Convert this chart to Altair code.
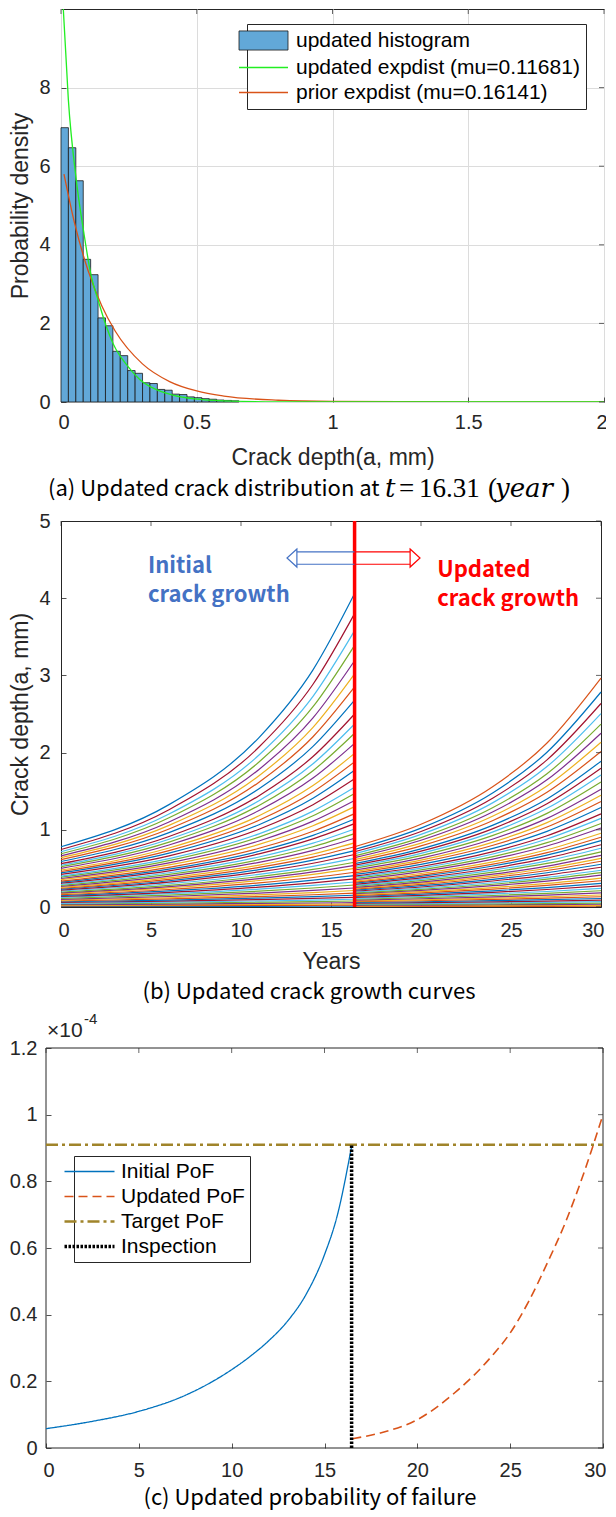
import altair as alt
import pandas as pd

# ======================= DATA =======================
# ---- (a) updated crack distribution at t = 16.31 year ----
HIST_BIN_WIDTH = 0.0273
HIST_DENSITY = [6.98, 6.47, 5.63, 3.63, 3.24, 2.14, 1.94, 1.29, 1.18, 0.80,
                0.73, 0.49, 0.47, 0.32, 0.30, 0.20, 0.19, 0.13, 0.11, 0.085,
                0.07, 0.05, 0.04, 0.03]
UPD_EXP_X = [0.0085, 0.027, 0.0555, 0.0838, 0.1108, 0.139, 0.166, 0.193, 0.247,
             0.292, 0.356, 0.415, 0.493, 0.60, 0.80, 1.0, 1.5, 2.0]
UPD_EXP_Y = [10.0, 7.7, 5.69, 4.32, 3.22, 2.54, 1.94, 1.47, 0.90,
             0.56, 0.30, 0.17, 0.08, 0.03, 0.005, 0.0, 0.0, 0.0]
PRIOR_EXP_X = [0.011, 0.05, 0.10, 0.15, 0.20, 0.30, 0.40, 0.50, 0.60, 0.80, 1.0, 1.5, 2.0]
PRIOR_EXP_Y = [5.80, 4.55, 3.34, 2.45, 1.80, 0.97, 0.52, 0.28, 0.15, 0.045, 0.013, 0.0, 0.0]
HIST_LABEL = "updated histogram"
LINE_LABELS_A = ["updated expdist (mu=0.11681)", "prior expdist (mu=0.16141)"]
A_XDOM = [0, 2]
A_YDOM = [0, 10]
A_XTICKS = [0, 0.5, 1, 1.5, 2]
A_YTICKS = [0, 2, 4, 6, 8]

# ---- (b) crack growth curves (crack depth, mm), top curve first ----
T_LEFT = [0, 6, 11, 14, 16.31]
LEFT_CURVES = [
    [0.780, 1.326, 2.195, 3.072, 4.06], [0.745, 1.260, 2.072, 2.885, 3.80],
    [0.716, 1.204, 1.969, 2.729, 3.58], [0.690, 1.155, 1.878, 2.594, 3.39],
    [0.663, 1.102, 1.782, 2.450, 3.19], [0.639, 1.057, 1.700, 2.327, 3.02],
    [0.614, 1.011, 1.617, 2.205, 2.85], [0.589, 0.964, 1.532, 2.081, 2.68],
    [0.561, 0.913, 1.442, 1.949, 2.50], [0.541, 0.877, 1.377, 1.855, 2.37],
    [0.522, 0.841, 1.316, 1.766, 2.25], [0.501, 0.803, 1.249, 1.670, 2.12],
    [0.479, 0.764, 1.181, 1.573, 1.99], [0.460, 0.731, 1.124, 1.491, 1.88],
    [0.441, 0.697, 1.066, 1.408, 1.77], [0.422, 0.662, 1.007, 1.325, 1.66],
    [0.401, 0.627, 0.948, 1.242, 1.55], [0.387, 0.601, 0.905, 1.181, 1.47],
    [0.369, 0.571, 0.855, 1.112, 1.38], [0.354, 0.545, 0.811, 1.052, 1.30],
    [0.336, 0.514, 0.761, 0.982, 1.21], [0.322, 0.490, 0.722, 0.928, 1.14],
    [0.309, 0.469, 0.688, 0.882, 1.08], [0.294, 0.444, 0.648, 0.827, 1.01],
    [0.281, 0.422, 0.613, 0.781, 0.95], [0.268, 0.400, 0.578, 0.733, 0.89],
    [0.255, 0.378, 0.543, 0.686, 0.83], [0.243, 0.359, 0.514, 0.647, 0.78],
    [0.231, 0.340, 0.484, 0.607, 0.73], [0.219, 0.321, 0.454, 0.567, 0.68],
    [0.207, 0.301, 0.423, 0.527, 0.63], [0.194, 0.281, 0.393, 0.487, 0.58],
    [0.184, 0.265, 0.368, 0.455, 0.54], [0.174, 0.248, 0.343, 0.423, 0.50],
    [0.160, 0.227, 0.312, 0.382, 0.45], [0.148, 0.209, 0.284, 0.347, 0.407],
    [0.136, 0.190, 0.257, 0.312, 0.365], [0.124, 0.172, 0.231, 0.279, 0.324],
    [0.112, 0.154, 0.205, 0.246, 0.285], [0.100, 0.136, 0.180, 0.215, 0.247],
    [0.089, 0.120, 0.157, 0.186, 0.214], [0.078, 0.104, 0.135, 0.159, 0.181],
    [0.068, 0.090, 0.116, 0.135, 0.153], [0.058, 0.076, 0.096, 0.112, 0.126],
    [0.048, 0.062, 0.078, 0.090, 0.101], [0.039, 0.050, 0.062, 0.070, 0.078],
    [0.030, 0.038, 0.046, 0.052, 0.057], [0.022, 0.027, 0.033, 0.037, 0.040],
    [0.014, 0.017, 0.020, 0.022, 0.024], [0.007, 0.008, 0.009, 0.010, 0.011],
]
T_RIGHT = [16.31, 20, 24, 27, 30]
RIGHT_CURVES = [
    [0.780, 1.071, 1.561, 2.124, 2.965], [0.745, 1.021, 1.480, 2.005, 2.785],
    [0.716, 0.978, 1.412, 1.906, 2.636], [0.690, 0.940, 1.352, 1.819, 2.506],
    [0.663, 0.899, 1.288, 1.726, 2.368], [0.639, 0.864, 1.233, 1.647, 2.251],
    [0.614, 0.828, 1.178, 1.568, 2.134], [0.589, 0.792, 1.121, 1.486, 2.014],
    [0.561, 0.752, 1.060, 1.400, 1.888], [0.541, 0.723, 1.015, 1.337, 1.797],
    [0.522, 0.695, 0.973, 1.278, 1.711], [0.501, 0.665, 0.927, 1.213, 1.619],
    [0.479, 0.634, 0.881, 1.148, 1.526], [0.460, 0.608, 0.841, 1.093, 1.447],
    [0.441, 0.581, 0.800, 1.036, 1.367], [0.422, 0.553, 0.759, 0.980, 1.288],
    [0.401, 0.525, 0.718, 0.923, 1.207], [0.387, 0.504, 0.687, 0.881, 1.148],
    [0.369, 0.480, 0.652, 0.833, 1.082], [0.354, 0.459, 0.620, 0.790, 1.023],
    [0.336, 0.434, 0.584, 0.742, 0.956], [0.322, 0.414, 0.556, 0.704, 0.904],
    [0.309, 0.397, 0.531, 0.671, 0.859], [0.294, 0.377, 0.502, 0.632, 0.806],
    [0.281, 0.359, 0.477, 0.598, 0.761], [0.268, 0.341, 0.452, 0.564, 0.715],
    [0.255, 0.323, 0.426, 0.530, 0.670], [0.243, 0.308, 0.404, 0.502, 0.631],
    [0.231, 0.292, 0.382, 0.473, 0.593], [0.219, 0.276, 0.359, 0.444, 0.554],
    [0.207, 0.259, 0.337, 0.414, 0.515], [0.194, 0.243, 0.314, 0.384, 0.476],
    [0.184, 0.229, 0.295, 0.360, 0.445], [0.174, 0.215, 0.276, 0.336, 0.414],
    [0.160, 0.198, 0.252, 0.305, 0.374], [0.148, 0.182, 0.231, 0.279, 0.340],
    [0.136, 0.167, 0.210, 0.252, 0.306], [0.124, 0.151, 0.190, 0.227, 0.273],
    [0.112, 0.136, 0.169, 0.201, 0.242], [0.100, 0.121, 0.149, 0.177, 0.211],
    [0.089, 0.107, 0.131, 0.155, 0.183], [0.078, 0.093, 0.114, 0.133, 0.156],
    [0.068, 0.081, 0.098, 0.114, 0.133], [0.058, 0.068, 0.082, 0.095, 0.110],
    [0.048, 0.056, 0.067, 0.077, 0.088], [0.039, 0.045, 0.053, 0.061, 0.070],
    [0.030, 0.034, 0.040, 0.045, 0.051], [0.022, 0.025, 0.029, 0.032, 0.036],
    [0.014, 0.016, 0.018, 0.020, 0.022], [0.007, 0.008, 0.009, 0.009, 0.010],
]
INSPECTION_YEAR_B = 16.31
B_XDOM = [0, 30]
B_YDOM = [0, 5]
B_XTICKS = [0, 5, 10, 15, 20, 25, 30]
B_YTICKS = [0, 1, 2, 3, 4, 5]

# ---- (c) probability of failure (axis units of 1e-4) ----
INITIAL_T = [0, 2.5, 5, 7.5, 10, 11, 12, 13, 14, 15, 15.7, 16.46]
INITIAL_POF = [0.058, 0.08, 0.11, 0.158, 0.235, 0.275, 0.322, 0.38, 0.46, 0.58, 0.70, 0.905]
UPDATED_T = [16.5, 18, 20, 22, 24, 25, 26, 27, 28, 29, 30]
UPDATED_POF = [0.028, 0.045, 0.085, 0.165, 0.275, 0.345, 0.44, 0.555, 0.68, 0.83, 1.0]
TARGET_T = [0, 30]
TARGET_POF = 0.91
INSPECTION_T = 16.46
INSPECTION_POF = [0, 0.91]
SERIES_C = ["Initial PoF", "Updated PoF", "Target PoF", "Inspection"]
C_XDOM = [0, 30]
C_YDOM = [0, 1.2]
C_XTICKS = [0, 5, 10, 15, 20, 25, 30]
C_YTICKS = [0, 0.2, 0.4, 0.6, 0.8, 1, 1.2]

# ======================= STYLE =======================
FONT = "Liberation Sans"
KFONT = "Noto Sans CJK KR"
MFONT = "Liberation Serif"
MIFONT = "DejaVu Serif"
AXC = "#262626"
TICK_FS = 20
TITLE_FS = 23
CAP_FS = 22
MATLAB = ["#0072BD", "#D95319", "#EDB120", "#7E2F8E", "#77AC30", "#4DBEEE", "#A2142F"]
BAR_FILL = "#62A8D8"
GREEN = "#22EE22"
ORANGE = "#D95319"
TARGET_C = "#A0842A"
BLUE_T = "#4472C4"
RED_T = "#FF0000"


def ax_main(orient, values, title, label_pad, title_pad, offset=-5):
    kw = dict(orient=orient, values=values, format="~g", offset=offset, domain=False,
              ticks=True, tickSize=5, tickColor=AXC, tickWidth=0.8, minExtent=0,
              labelFont=FONT, labelFontSize=TICK_FS, labelColor=AXC,
              labelPadding=label_pad, labelOverlap=False, grid=False)
    if orient in ("bottom", "top"):
        kw.update(labelFlush=True, labelFlushOffset=3)
    else:
        kw.update(labelFlush=False)
    if title:
        kw.update(title=title, titleFont=FONT, titleFontSize=TITLE_FS, titleColor=AXC,
                  titleFontWeight="normal", titlePadding=title_pad)
    else:
        kw.update(title=None)
    return alt.Axis(**kw)


def ax_grid(orient, values):
    return alt.Axis(orient=orient, values=values, domain=False, ticks=False, labels=False,
                    title=None, grid=True, gridColor="#DCDCDC", gridWidth=1, minExtent=0)


def inside_ticks(xscale, yscale, xticks, yticks, xdom, ydom):
    """MATLAB-style inward ticks on the top and right edges (box on)."""
    top = alt.Chart(pd.DataFrame({"x": xticks, "y": [ydom[1]] * len(xticks)})).mark_tick(
        orient="vertical", size=5, thickness=1, yOffset=2.5, color=AXC).encode(
        x=alt.X("x:Q", scale=xscale, axis=None), y=alt.Y("y:Q", scale=yscale, axis=None))
    right = alt.Chart(pd.DataFrame({"x": [xdom[1]] * len(yticks), "y": yticks})).mark_tick(
        orient="horizontal", size=5, thickness=1, xOffset=-2.5, color=AXC).encode(
        x=alt.X("x:Q", scale=xscale, axis=None), y=alt.Y("y:Q", scale=yscale, axis=None))
    return [top, right]


def one_row():
    return pd.DataFrame({"k": [0]})


def txt(text, x, y, size, font=KFONT, align="left", style="normal", weight="normal",
        color="#000000", baseline="middle"):
    return alt.Chart(one_row()).mark_text(
        text=text, font=font, fontSize=size, fontStyle=style, fontWeight=weight,
        align=align, baseline=baseline, color=color
    ).encode(x=alt.value(x), y=alt.value(y))


# ======================= PANEL (a) =======================
n = len(HIST_DENSITY)
hist_df = pd.DataFrame({
    "x0": [i * HIST_BIN_WIDTH for i in range(n)],
    "x1": [(i + 1) * HIST_BIN_WIDTH for i in range(n)],
    "dens": HIST_DENSITY, "zero": [0.0] * n, "hs": [HIST_LABEL] * n,
})
upd_df = pd.DataFrame({"x": UPD_EXP_X, "y": UPD_EXP_Y, "series": LINE_LABELS_A[0]})
pri_df = pd.DataFrame({"x": PRIOR_EXP_X, "y": PRIOR_EXP_Y, "series": LINE_LABELS_A[1]})

xsA = alt.Scale(domain=A_XDOM, nice=False, zero=False)
ysA = alt.Scale(domain=A_YDOM, nice=False, zero=False)
colA = alt.Scale(domain=LINE_LABELS_A, range=[GREEN, ORANGE])
fillA = alt.Scale(domain=[HIST_LABEL], range=[BAR_FILL])

# legend for the two lines: carries the box; a blank title row reserves the histogram row
legL = alt.Legend(
    title="\u00a0", titleFontSize=21, titlePadding=6, titleFont=FONT,
    orient="none", legendX=186, legendY=15, padding=6, zindex=0,
    fillColor="#FFFFFF", strokeColor=AXC, labelFont=FONT, labelFontSize=21,
    labelColor="#000000", labelOffset=22, symbolType="stroke", symbolSize=2401,
    rowPadding=3, labelLimit=400,
    symbolStrokeWidth={"expr": "datum.value === 'prior expdist (mu=0.16141)' ? 1.3 : 1.3"},
)
# legend for the histogram patch, drawn on top in the first row
legH = alt.Legend(
    title=None, orient="none", legendX=186, legendY=15, padding=6, zindex=1,
    labelFont=FONT, labelFontSize=21, labelColor="#000000", labelOffset=22,
    symbolType="M-1,-0.39H1V0.39H-1Z", symbolSize=2401, symbolStrokeColor="#1a1a1a",
    symbolStrokeWidth={"expr": "datum.value === 'updated histogram' ? 0.8 : 0.8"},
    labelLimit=400,
)

bars = alt.Chart(hist_df).mark_rect(stroke="#1a1a1a", strokeWidth=0.8).encode(
    x=alt.X("x0:Q", scale=xsA, axis=ax_main("bottom", A_XTICKS, "Crack depth(a, mm)", 10, 14)),
    x2="x1",
    y=alt.Y("dens:Q", scale=ysA, axis=ax_main("left", A_YTICKS, "Probability density", 11, 6)),
    y2="zero",
    fill=alt.Fill("hs:N", scale=fillA, legend=legH),
)
upd_line = alt.Chart(upd_df).mark_line(strokeWidth=1.3, interpolate="monotone", clip=True).encode(
    x=alt.X("x:Q", scale=xsA, axis=None),
    y=alt.Y("y:Q", scale=ysA, axis=None),
    color=alt.Color("series:N", scale=colA, legend=legL),
)
pri_line = alt.Chart(pri_df).mark_line(strokeWidth=1.3, interpolate="monotone", clip=True).encode(
    x=alt.X("x:Q", scale=xsA, axis=ax_grid("bottom", A_XTICKS)),
    y=alt.Y("y:Q", scale=ysA, axis=ax_grid("left", A_YTICKS)),
    color=alt.Color("series:N", scale=colA, legend=legL),
)
cap_a = [
    txt("(a)  Updated  crack  distribution  at", -13, 480, CAP_FS),
    txt("t", 324, 480, 26, font=MIFONT, style="italic"),
    txt("=", 338, 480, 27, font=MFONT),
    txt("16.31", 358, 480, 27, font=MFONT),
    txt("(", 427, 480, 27, font=MFONT),
    txt("year", 434, 480, 26, font=MIFONT, style="italic"),
    txt(")", 500, 480, 27, font=MFONT),
]
panel_a = alt.layer(
    bars, pri_line, upd_line, *inside_ticks(xsA, ysA, A_XTICKS, A_YTICKS, A_XDOM, A_YDOM), *cap_a
).resolve_axis(x="independent", y="independent").properties(width=543, height=393)

# ======================= PANEL (b) =======================
rows = []
NL = len(LEFT_CURVES)
NR = len(RIGHT_CURVES)
for k, vals in enumerate(LEFT_CURVES):
    gi = NL - 1 - k
    for t, a in zip(T_LEFT, vals):
        rows.append({"curve": f"c{gi:03d}", "gi": gi, "t": t, "a": a, "cidx": f"k{gi % 7}"})
for k, vals in enumerate(RIGHT_CURVES):
    gi = NL + NR - 1 - k
    for t, a in zip(T_RIGHT, vals):
        rows.append({"curve": f"c{gi:03d}", "gi": gi, "t": t, "a": a, "cidx": f"k{gi % 7}"})
curves_df = pd.DataFrame(rows).sort_values(["gi", "t"]).reset_index(drop=True)

xsB = alt.Scale(domain=B_XDOM, nice=False, zero=False)
ysB = alt.Scale(domain=B_YDOM, nice=False, zero=False)
colB = alt.Scale(domain=[f"k{i}" for i in range(7)], range=MATLAB)

curve_lines = alt.Chart(curves_df).mark_line(strokeWidth=1.2, interpolate="monotone").encode(
    x=alt.X("t:Q", scale=xsB, axis=ax_main("bottom", B_XTICKS, "Years", 13, 10)),
    y=alt.Y("a:Q", scale=ysB, axis=ax_main("left", B_YTICKS, "Crack depth(a, mm)", 11, 6)),
    color=alt.Color("cidx:N", scale=colB, legend=None),
    detail="curve:N", order="t:Q",
)
insp_rule = alt.Chart(pd.DataFrame({"t": [INSPECTION_YEAR_B]})).mark_rule(
    color=RED_T, strokeWidth=3.5).encode(x=alt.X("t:Q", scale=xsB, axis=None))


def arrow_body(x_from, x_to, color):
    d = pd.DataFrame({"x1": [x_from, x_from], "x2": [x_to, x_to], "y": [4.44, 4.60]})
    return alt.Chart(d).mark_rule(color=color, strokeWidth=1.2).encode(
        x=alt.X("x1:Q", scale=xsB, axis=None), x2="x2",
        y=alt.Y("y:Q", scale=ysB, axis=None))


def arrow_head(x, shape, color):
    d = pd.DataFrame({"x": [x], "y": [4.52]})
    return alt.Chart(d).mark_point(shape=shape, filled=False, size=324, color=color,
                                   strokeWidth=1.2, opacity=1).encode(
        x=alt.X("x:Q", scale=xsB, axis=None), y=alt.Y("y:Q", scale=ysB, axis=None))


def note(x, y, text, color):
    d = pd.DataFrame({"x": [x], "y": [y], "txt": [text]})
    return alt.Chart(d).mark_text(font=KFONT, fontWeight="bold", fontSize=22, align="left",
                                  baseline="alphabetic", color=color).encode(
        x=alt.X("x:Q", scale=xsB, axis=None), y=alt.Y("y:Q", scale=ysB, axis=None),
        text="txt:N")


b_layers = [
    curve_lines, insp_rule,
    *inside_ticks(xsB, ysB, B_XTICKS, B_YTICKS, B_XDOM, B_YDOM),
    arrow_body(13.1, INSPECTION_YEAR_B, BLUE_T), arrow_body(INSPECTION_YEAR_B, 19.4, RED_T),
    arrow_head(12.83, "M0.55,-1L-0.55,0L0.55,1Z", BLUE_T),
    arrow_head(19.67, "M-0.55,-1L0.55,0L-0.55,1Z", RED_T),
    note(4.83, 4.33, "Initial", BLUE_T),
    note(4.83, 3.955, "crack growth", BLUE_T),
    note(20.9, 4.27, "Updated", RED_T),
    note(20.9, 3.895, "crack growth", RED_T),
    txt("(b)  Updated  crack  growth  curves", 248, 471, CAP_FS, align="center"),
]
panel_b = alt.layer(*b_layers).resolve_axis(x="independent", y="independent").properties(
    width=540, height=386)

# ======================= PANEL (c) =======================
# the frame of (c) starts 15 px left of panels (a)/(b): the x range starts at -15 px
C_SHIFT = 15
xsC = alt.Scale(domain=C_XDOM, range=[-C_SHIFT, 542], nice=False, zero=False)
ysC = alt.Scale(domain=C_YDOM, nice=False, zero=False)
colC = alt.Scale(domain=SERIES_C, range=["#0072BD", ORANGE, TARGET_C, "#000000"])
dashC = alt.Scale(domain=SERIES_C, range=[[1, 0], [9, 5], [12, 4, 3, 4], [2.5, 1.5]])
legC = alt.Legend(
    title=None, orient="none", legendX=13, legendY=108, padding=5,
    fillColor="#FFFFFF", strokeColor=AXC, labelFont=FONT, labelFontSize=21,
    labelColor="#000000", labelOffset=21, symbolType="stroke", symbolSize=2500,
    rowPadding=3, labelLimit=300,
    symbolStrokeWidth={"expr": "datum.value === 'Initial PoF' ? 1.3 : datum.value === 'Updated PoF' ? 1.6 : datum.value === 'Target PoF' ? 2.5 : 3.5"},
)


def pof_df(ts, vals, name):
    return pd.DataFrame({"t": ts, "pof": vals, "series": name, "ord": list(range(len(ts)))})


init_df = pof_df(INITIAL_T, INITIAL_POF, SERIES_C[0])
upd_pof_df = pof_df(UPDATED_T, UPDATED_POF, SERIES_C[1])
tgt_df = pof_df(TARGET_T, [TARGET_POF] * len(TARGET_T), SERIES_C[2])
insp_df = pof_df([INSPECTION_T] * len(INSPECTION_POF), INSPECTION_POF, SERIES_C[3])


def pof_line(df, width, xaxis=None, yaxis=None):
    return alt.Chart(df).mark_line(strokeWidth=width, interpolate="monotone").encode(
        x=alt.X("t:Q", scale=xsC, axis=xaxis), y=alt.Y("pof:Q", scale=ysC, axis=yaxis),
        color=alt.Color("series:N", scale=colC, legend=legC),
        strokeDash=alt.StrokeDash("series:N", scale=dashC, legend=legC),
        order="ord:Q")


frame_df = pd.DataFrame({
    "x1": [C_XDOM[0], C_XDOM[0], C_XDOM[0], C_XDOM[1]],
    "x2": [C_XDOM[1], C_XDOM[1], C_XDOM[0], C_XDOM[1]],
    "y1": [C_YDOM[0], C_YDOM[1], C_YDOM[0], C_YDOM[0]],
    "y2": [C_YDOM[0], C_YDOM[1], C_YDOM[1], C_YDOM[1]],
})
c_frame = alt.Chart(frame_df).mark_rule(color=AXC, strokeWidth=1).encode(
    x=alt.X("x1:Q", scale=xsC, axis=None), x2="x2",
    y=alt.Y("y1:Q", scale=ysC, axis=None), y2="y2")

c_init = pof_line(init_df, 1.3, ax_main("bottom", C_XTICKS, None, 12, 0),
                  ax_main("left", C_YTICKS, None, 9, 0, offset=C_SHIFT - 5))
c_upd = pof_line(upd_pof_df, 1.6)
c_tgt = pof_line(tgt_df, 2.5)
c_insp = pof_line(insp_df, 3.5)
c_layers = [
    c_frame, c_tgt, c_init, c_upd, c_insp,
    *inside_ticks(xsC, ysC, C_XTICKS, C_YTICKS, C_XDOM, C_YDOM),
    txt("×10", -14, -11, 21, font=FONT, baseline="alphabetic", color=AXC),
    txt("-4", 23, -24, 15, font=FONT, baseline="alphabetic", color=AXC),
    txt("(c)  Updated  probability  of  failure", 249, 450, CAP_FS, align="center"),
]
panel_c = alt.layer(*c_layers).resolve_axis(x="independent", y="independent").properties(
    width=542, height=400, view=alt.ViewBackground(stroke="transparent"))

# ======================= FIGURE =======================
chart = alt.vconcat(panel_a, panel_b, panel_c, spacing=7).resolve_scale(
    x="independent", y="independent", color="independent", strokeDash="independent",
    fill="independent"
).resolve_legend(color="independent", strokeDash="independent", fill="independent").properties(
    padding={"left": 0, "top": 0, "right": -13, "bottom": 0}, background="#FFFFFF"
).configure_view(stroke=AXC, strokeWidth=1)

chart.save("out.html", embed_options={"renderer": "svg", "actions": False})
